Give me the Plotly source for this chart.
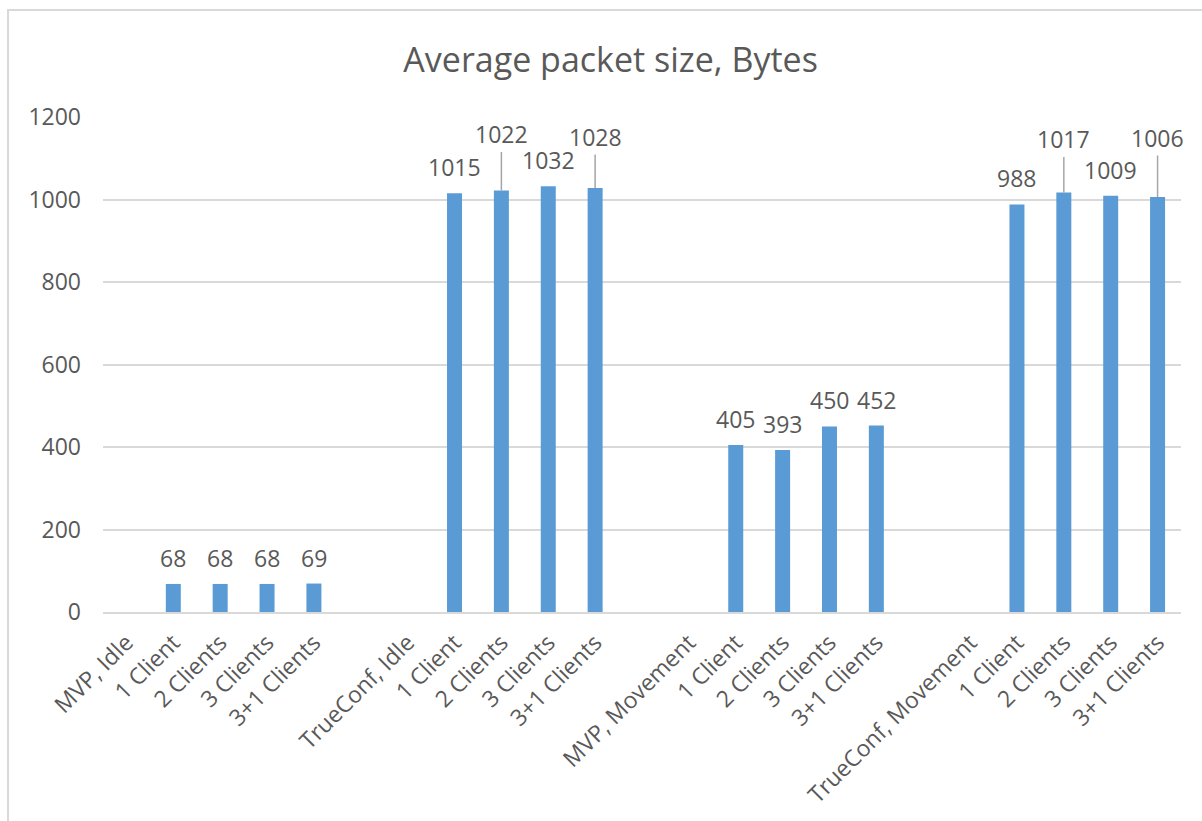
import plotly.graph_objects as go

# Category axis: each scenario header is followed by its client counts,
# with a blank slot separating the scenarios.
categories = [
    "MVP, Idle", "1 Client", "2 Clients", "3 Clients", "3+1 Clients", "",
    "TrueConf, Idle", "1 Client", "2 Clients", "3 Clients", "3+1 Clients", "",
    "MVP, Movement", "1 Client", "2 Clients", "3 Clients", "3+1 Clients", "",
    "TrueConf, Movement", "1 Client", "2 Clients", "3 Clients", "3+1 Clients",
]
values = [
    None, 68, 68, 68, 69, None,
    None, 1015, 1022, 1032, 1028, None,
    None, 405, 393, 450, 452, None,
    None, 988, 1017, 1009, 1006,
]
# Labels lifted off the bar with a leader line (index -> pixel offset)
leader_offsets = {8: -56, 10: -51, 20: -53, 22: -59}

y_ticks = [0, 200, 400, 600, 800, 1000, 1200]

FONT = "Open Sans"
TEXT = "#595959"
GRID = "#d9d9d9"
BAR = "#5b9bd5"
SIZE = 23

xs = list(range(len(categories)))

fig = go.Figure(
    go.Bar(
        x=xs,
        y=values,
        width=0.32,
        marker=dict(color=BAR, line=dict(width=0)),
        hoverinfo="skip",
    )
)

annotations = []
for i, v in enumerate(values):
    if v is None:
        continue
    if i in leader_offsets:
        annotations.append(dict(
            x=i, y=v, xref="x", yref="y", text=str(v),
            showarrow=True, arrowhead=0, arrowwidth=1.5, arrowcolor="#a6a6a6",
            ax=0, ay=leader_offsets[i], standoff=0,
            font=dict(family=FONT, size=SIZE, color=TEXT),
        ))
    else:
        annotations.append(dict(
            x=i, y=v, xref="x", yref="y", text=str(v),
            showarrow=False, yshift=26, yanchor="middle",
            font=dict(family=FONT, size=SIZE, color=TEXT),
        ))

fig.update_layout(
    width=1202,
    height=821,
    margin=dict(l=103, r=21, t=117, b=209),
    paper_bgcolor="white",
    plot_bgcolor="white",
    showlegend=False,
    title=dict(
        text="Average packet size, Bytes",
        x=0.508, xanchor="center", y=0.927, yanchor="middle",
        font=dict(family=FONT, size=34, color=TEXT),
    ),
    xaxis=dict(
        range=[-0.5, len(categories) - 0.5],
        tickmode="array",
        tickvals=xs,
        ticktext=categories,
        tickangle=-45,
        tickfont=dict(family=FONT, size=SIZE, color=TEXT),
        showgrid=False,
        showline=True,
        linecolor=GRID,
        linewidth=2,
        ticks="",
        ticklabelstandoff=6,
        zeroline=False,
    ),
    yaxis=dict(
        range=[0, 1200],
        tickmode="array",
        tickvals=y_ticks,
        tickfont=dict(family=FONT, size=SIZE, color=TEXT),
        showgrid=True,
        gridcolor=GRID,
        gridwidth=1.5,
        zeroline=False,
        showline=False,
        ticks="",
        ticklabelstandoff=21,
    ),
    annotations=annotations,
    shapes=[dict(
        type="rect", xref="paper", yref="paper",
        x0=-0.0881, x1=1.2, y0=-0.6, y1=1.216,
        line=dict(color=GRID, width=2), fillcolor="rgba(0,0,0,0)",
        layer="below",
    )],
)

fig.write_html("out.html")
